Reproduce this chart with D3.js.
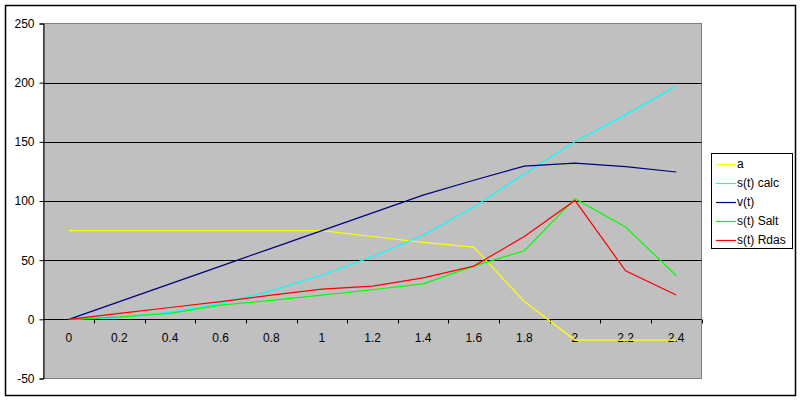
<!DOCTYPE html>
<html><head><meta charset="utf-8">
<script src="https://cdn.jsdelivr.net/npm/d3@7"></script>
<style>body{margin:0;background:#fff}svg{display:block}text{font-family:"Liberation Sans",Arial,sans-serif;font-size:12px;fill:#000}</style>
</head><body>
<svg id="c" width="800" height="401"></svg>
<script>
const categories = ["0","0.2","0.4","0.6","0.8","1","1.2","1.4","1.6","1.8","2","2.2","2.4"];
const yTicks = [-50,0,50,100,150,200,250];
const seriesNames = ["a","s(t) calc","v(t)","s(t) Salt","s(t) Rdas"];
const seriesColors = ["#FFFF00","#00FFFF","#000080","#00FF00","#FF0000"];
const aVals    = [75,75,75,75,75,75,70,65,61,15,-17.5,-17.5,-17.5];
const sCalc    = [0,1.5,6,13.5,24,37.5,53,71,95,123,150,173,197];
const vVals    = [0,15,30,45,60,75,90,105,117.5,129.5,132,129,124.5];
const sSalt    = [0,2,5,12,16,20.5,25,30,45,58,102,78,37];
const sRdas    = [0,5,10,15,20.5,25.5,28,35,45,70,100.5,41,20.5];
const allSeries = [aVals,sCalc,vVals,sSalt,sRdas];

const svg = d3.select("#c");
// outer border
svg.append("rect").attr("x",5.5).attr("y",5.5).attr("width",790).attr("height",390)
  .attr("fill","#fff").attr("stroke","#000").attr("stroke-width",1.5);

const L=43.5, R=701.5, T=23.5, B=378.5;
const x = d3.scaleBand().domain(categories).range([L,R]).padding(0);
const y = d3.scaleLinear().domain([-50,250]).range([B,T]);
const cx = c => x(c)+x.bandwidth()/2;

svg.append("rect").attr("x",L).attr("y",T).attr("width",R-L).attr("height",B-T)
  .attr("fill","#C0C0C0").attr("stroke","#808080").attr("stroke-width",1);

// gridlines
svg.append("g").selectAll("line").data(yTicks.filter(t=>t>-50&&t<250&&t!==0)).join("line")
  .attr("x1",L).attr("x2",R).attr("y1",d=>Math.round(y(d))+0.5).attr("y2",d=>Math.round(y(d))+0.5)
  .attr("stroke","#000").attr("stroke-width",1);

// y axis
const yAxis = d3.axisLeft(y).tickValues(yTicks).tickSize(4).tickPadding(5).tickFormat(d=>String(d));
const gy = svg.append("g").attr("transform",`translate(${L},0)`).call(yAxis);
gy.select(".domain").attr("stroke","#000");
gy.selectAll("line").attr("stroke","#000");
gy.selectAll("text").style("font-size","12px").attr("font-family","Liberation Sans, Arial, sans-serif").attr("fill","#000");

// x axis at y=0
const y0 = Math.round(y(0))+0.5;
const gx = svg.append("g").attr("transform",`translate(0,${y0})`);
gx.append("line").attr("x1",L).attr("x2",R).attr("y1",0).attr("y2",0).attr("stroke","#000");
const bounds = categories.map(c=>x(c)).concat([R]);
gx.selectAll("line.tk").data(bounds.slice(1)).join("line").attr("class","tk")
  .attr("x1",d=>Math.round(d)+0.5).attr("x2",d=>Math.round(d)+0.5).attr("y1",0).attr("y2",4).attr("stroke","#000");
gx.selectAll("text").data(categories).join("text")
  .attr("x",d=>cx(d)).attr("y",22).attr("text-anchor","middle").text(d=>d);

// lines
const line = d3.line().x((d,i)=>cx(categories[i])).y(d=>y(d));
svg.append("g").selectAll("path").data(allSeries).join("path")
  .attr("d",d=>line(d)).attr("fill","none").attr("stroke",(d,i)=>seriesColors[i]).attr("stroke-width",1.2);

// legend
const lg = svg.append("g");
lg.append("rect").attr("x",711.5).attr("y",153.5).attr("width",81).attr("height",95)
  .attr("fill","#fff").attr("stroke","#000");
const ly = d3.scalePoint().domain(seriesNames).range([163.5,239.5]);
seriesNames.forEach((n,i)=>{
  lg.append("line").attr("x1",716).attr("x2",736).attr("y1",Math.round(ly(n))+0.5).attr("y2",Math.round(ly(n))+0.5)
    .attr("stroke",seriesColors[i]).attr("stroke-width",1.2);
  lg.append("text").attr("x",737).attr("y",ly(n)+4.5).text(n);
});
</script>
</body></html>
